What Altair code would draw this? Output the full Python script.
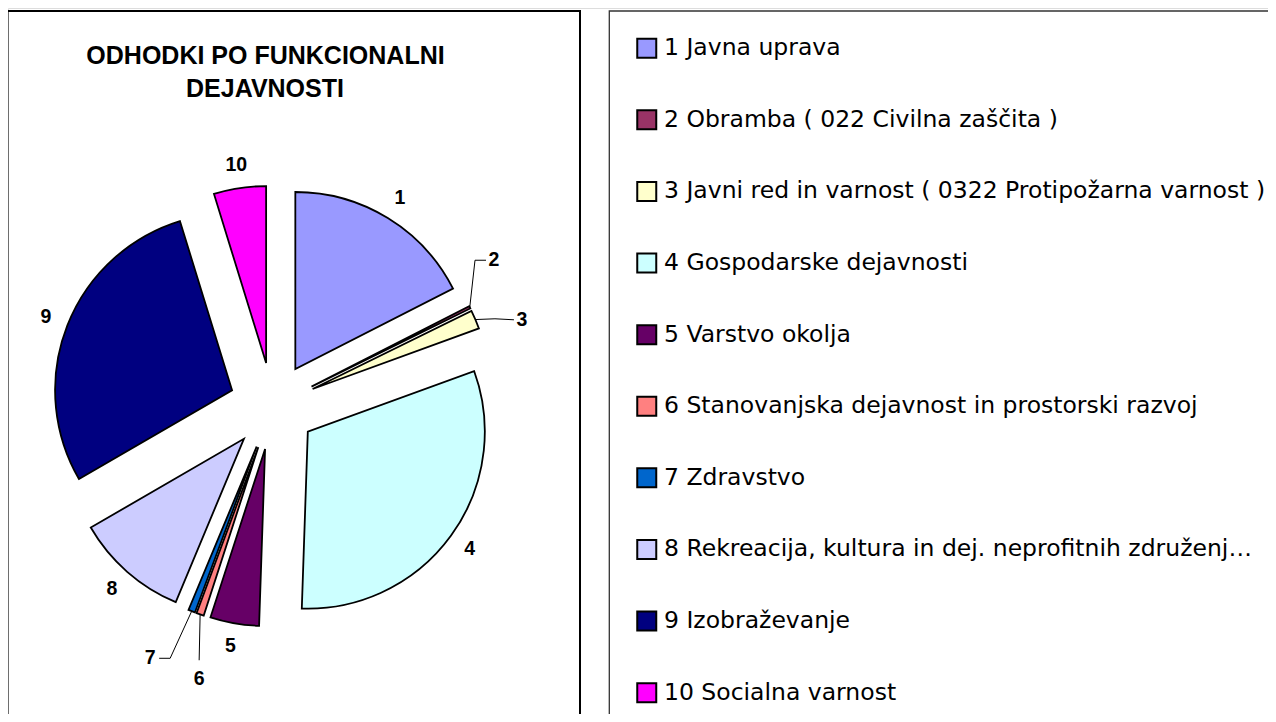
import altair as alt
import pandas as pd

# ---------------- data ----------------
nums = [1, 2, 3, 4, 5, 6, 7, 8, 9, 10]
names = [
    "1 Javna uprava",
    "2 Obramba ( 022 Civilna zaščita )",
    "3 Javni red in varnost ( 0322 Protipožarna varnost )",
    "4 Gospodarske dejavnosti",
    "5 Varstvo okolja",
    "6 Stanovanjska dejavnost in prostorski razvoj",
    "7 Zdravstvo",
    "8 Rekreacija, kultura in dej. neprofitnih združenj…",
    "9 Izobraževanje",
    "10 Socialna varnost",
]
shares = [17.5, 0.22, 1.72, 31.1, 4.45, 0.68, 0.62, 10.35, 28.6, 4.76]
colors = ["#9999FF", "#993366", "#FFFFCC", "#CCFFFF", "#660066",
          "#FF8080", "#0066CC", "#CCCCFF", "#000080", "#FF00FF"]
title_lines = ["ODHODKI PO FUNKCIONALNI", "DEJAVNOSTI"]

# ---------------- style / layout ----------------
W, H = 1260, 706
CX, CY = 264.6, 398.1      # pie centre (px in plot area)
R = 177                    # outer radius
EXPLODE = 43.5             # explosion distance
LABEL_R = 200              # label distance from slice centre
# manually moved labels (angle deg, radius) like in the original
LABEL_MOVE = {2: (55.3, 222), 3: (71.7, 220.5), 6: (194.3, 239.5), 7: (206.7, 237)}
# leader line elbow / end offsets relative to the label
LEADER = {2: (-19, 0, -8, 0), 3: (-27, -1, -8, 0), 6: (0, -19, 0, -19), 7: (20, 0, 9, 0)}

df = pd.DataFrame({"num": nums, "name": names, "value": shares})
df["lab"] = df["num"].astype(str)
df["lab_deg"] = [LABEL_MOVE.get(n, (None, None))[0] for n in nums]
df["lab_r"] = [LABEL_MOVE.get(n, (None, None))[1] for n in nums]
df["has_leader"] = [n in LEADER for n in nums]
for i, col in enumerate(["el_dx", "el_dy", "end_dx", "end_dy"]):
    df[col] = [LEADER.get(n, (0, 0, 0, 0))[i] for n in nums]

base = (
    alt.Chart(df)
    .transform_window(cum="sum(value)", sort=[{"field": "num"}], frame=[None, 0])
    .transform_joinaggregate(total="sum(value)")
    .transform_calculate(
        a0="2*PI*(datum.cum - datum.value)/datum.total",
        a1="2*PI*datum.cum/datum.total",
    )
    .transform_calculate(mid="(datum.a0 + datum.a1)/2")
    .transform_calculate(
        cx=f"{CX} + {EXPLODE}*sin(datum.mid)",
        cy=f"{CY} - {EXPLODE}*cos(datum.mid)",
        la="isValid(datum.lab_deg) ? datum.lab_deg*PI/180 : datum.mid",
        lr=f"isValid(datum.lab_r) ? datum.lab_r : {LABEL_R}",
    )
    .transform_calculate(
        lx="datum.cx + datum.lr*sin(datum.la)",
        ly="datum.cy - datum.lr*cos(datum.la)",
        px=f"datum.cx + {R}*sin(datum.mid)",
        py=f"datum.cy - {R}*cos(datum.mid)",
    )
    .transform_calculate(
        ex="datum.lx + datum.el_dx",
        ey="datum.ly + datum.el_dy",
        tx="datum.lx + datum.end_dx",
        ty="datum.ly + datum.end_dy",
    )
)

one = pd.DataFrame({"d": [0]})

left_panel = alt.Chart(one).mark_rect(fillOpacity=0, stroke="#000000", strokeWidth=2).encode(
    x=alt.value(-0.5), x2=alt.value(572), y=alt.value(3), y2=alt.value(760)
)
right_panel = alt.Chart(one).mark_rect(fillOpacity=0, stroke="#333333", strokeWidth=1.3).encode(
    x=alt.value(601.3), x2=alt.value(1300), y=alt.value(3), y2=alt.value(760)
)

title1 = alt.Chart(one).mark_text(
    text=title_lines[0], font="Liberation Sans", fontWeight="bold", fontSize=25,
    align="center", baseline="middle", color="black"
).encode(x=alt.value(257.5), y=alt.value(48.3))
title2 = alt.Chart(one).mark_text(
    text=title_lines[1], font="Liberation Sans", fontWeight="bold", fontSize=25,
    align="center", baseline="middle", color="black"
).encode(x=alt.value(257), y=alt.value(81))

arcs = base.mark_arc(outerRadius=R, stroke="black", strokeWidth=1.8).encode(
    theta=alt.Theta("a0:Q", scale=None),
    theta2="a1:Q",
    x=alt.X("cx:Q", scale=None, axis=None),
    y=alt.Y("cy:Q", scale=None, axis=None),
    color=alt.Color(
        "name:N",
        scale=alt.Scale(domain=names, range=colors),
        legend=alt.Legend(
            title=None, orient="none", legendX=627, legendY=28.5,
            symbolType="square", symbolSize=361, symbolStrokeColor="black",
            symbolStrokeWidth=2, symbolOpacity=1,
            labelFont="DejaVu Sans", labelFontSize=23.5, labelColor="black",
            labelLimit=2000, labelOffset=5.5, rowPadding=43.6, padding=0,
        ),
    ),
    order=alt.Order("num:Q"),
)

leader_a = base.transform_filter("datum.has_leader").mark_rule(color="black", strokeWidth=1).encode(
    x=alt.X("px:Q", scale=None), y=alt.Y("py:Q", scale=None),
    x2="ex:Q", y2="ey:Q",
)
leader_b = base.transform_filter("datum.has_leader").mark_rule(color="black", strokeWidth=1).encode(
    x=alt.X("ex:Q", scale=None), y=alt.Y("ey:Q", scale=None),
    x2="tx:Q", y2="ty:Q",
)

labels = base.mark_text(
    font="Liberation Sans", fontWeight="bold", fontSize=19.5, color="black",
    align="center", baseline="middle"
).encode(
    x=alt.X("lx:Q", scale=None), y=alt.Y("ly:Q", scale=None), text="lab:N"
)

chart = (
    alt.layer(left_panel, right_panel, title1, title2, arcs, leader_a, leader_b, labels)
    .properties(width=W, height=H, padding=0, autosize=alt.AutoSizeParams(type="none"))
    .configure_view(strokeWidth=0)
    .configure(background="white")
)

chart.save("out.html", embed_options={"renderer": "svg", "actions": False})
